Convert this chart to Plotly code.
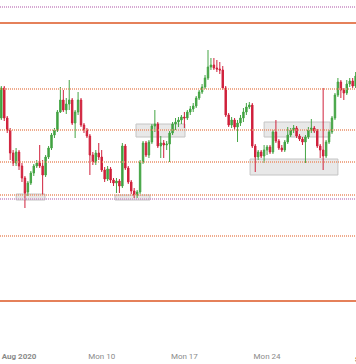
import pandas as pd
import plotly.graph_objects as go

# 6-hour candles
start = "2020-08-01 12:00"
opens = [12010,12160,12010,11950,11835,11785,11840,11770,11710,11640,
         11685,11735,11770,11785,11770,11725,11815,11860,11925,11950,
         12040,12100,12050,12080,12100,11985,12040,12100,11975,11950,
         11920,11825,11790,11835,11815,11750,11705,11755,11700,11685,
         11695,11670,11870,11760,11690,11645,11625,11640,11790,11885,
         11825,11890,11970,11980,11870,11885,11875,11880,11935,11980,
         11990,12000,12015,12010,12040,12055,12070,12110,12140,12165,
         12210,12265,12275,12260,12255,12250,12160,12025,11975,12000,
         11965,11985,12010,12040,12065,12075,11870,11815,11840,11820,
         11850,11865,11840,11940,11895,11860,11850,11890,11925,11950,
         11960,11920,11905,11890,11915,11950,11960,11945,11870,11850,
         11820,11890,11940,12010,12125,12190,12150,12135,12180,12195,
         12170]
highs = [12170,12170,12020,11960,11850,11860,11850,11785,11720,11695,
         11745,11780,11800,11875,11800,11825,11870,11935,11960,12050,
         12165,12150,12110,12200,12110,12050,12140,12110,11985,11960,
         11930,11840,11850,11885,11850,11765,11770,11765,11710,11710,
         11705,11885,11880,11770,11700,11660,11650,11800,11895,11895,
         11900,11980,12050,11990,11920,11900,11895,11945,11990,12010,
         12015,12025,12040,12050,12070,12085,12120,12150,12180,12225,
         12350,12310,12310,12300,12290,12270,12170,12035,12015,12010,
         12000,12025,12060,12085,12090,12085,11880,11850,11850,11875,
         11875,11875,11950,12000,11905,11875,11900,11965,11960,11975,
         11970,11930,11915,11925,11965,12005,11970,11955,11880,12160,
         11900,11950,12020,12135,12210,12200,12160,12200,12210,12210,
         12240]
lows = [12000,11995,11935,11800,11770,11770,11750,11690,11560,11620,
        11675,11720,11760,11760,11625,11715,11805,11850,11910,11940,
        12035,12040,12030,12050,11975,11910,12025,11965,11935,11910,
        11725,11775,11775,11800,11740,11690,11695,11685,11670,11635,
        11635,11660,11750,11680,11630,11610,11610,11630,11780,11815,
        11810,11880,11940,11860,11810,11810,11850,11790,11925,11950,
        11965,11980,11960,12000,12025,12040,12060,12100,12130,12155,
        12200,12250,12250,12240,12230,12150,12015,11965,11960,11950,
        11890,11970,11990,12025,12055,11860,11740,11800,11810,11785,
        11825,11830,11830,11885,11850,11840,11840,11880,11915,11935,
        11910,11895,11875,11785,11905,11935,11935,11860,11810,11750,
        11810,11880,11930,12000,12115,12110,12100,12125,12165,12160,
        12160]
closes = [12160,12010,11950,11835,11785,11840,11770,11710,11635,11685,
          11735,11770,11785,11770,11725,11815,11860,11925,11950,12040,
          12100,12050,12080,12100,11985,12040,12100,11975,11950,11920,
          11825,11790,11835,11815,11750,11705,11755,11700,11685,11695,
          11670,11870,11760,11690,11645,11625,11640,11790,11885,11825,
          11890,11970,11980,11870,11885,11875,11880,11935,11980,11990,
          12000,12015,12010,12040,12055,12070,12110,12140,12165,12210,
          12265,12275,12260,12255,12250,12160,12025,11975,12000,11965,
          11985,12010,12040,12065,12075,11870,11815,11840,11820,11850,
          11865,11840,11940,11895,11860,11850,11890,11925,11950,11960,
          11920,11905,11890,11915,11950,11960,11945,11870,11850,11820,
          11890,11940,12010,12125,12190,12150,12135,12180,12195,12170,
          12220]

# horizontal levels
solid_levels = [12485, 11095]
dotted_levels = [12155, 11950, 11790, 11625, 11420]
purple_levels = [12565, 11605]

# zones: (x0, x1, y0, y1)
zones = [
    ("2020-08-12 21:40", "2020-08-17 01:15", 11915, 11980),
    ("2020-08-23 18:00", "2020-08-29 08:00", 11915, 11990),
    ("2020-08-22 13:30", "2020-08-30 00:00", 11725, 11805),
    ("2020-08-02 18:15", "2020-08-05 04:50", 11600, 11630),
    ("2020-08-11 03:00", "2020-08-14 02:10", 11600, 11625),
]

tick_vals = ["2020-08-03", "2020-08-10", "2020-08-17", "2020-08-24"]
tick_text = ["<b>Aug 2020</b>", "Mon 10", "Mon 17", "Mon 24"]

times = pd.date_range(start, periods=len(opens), freq="6h")

fig = go.Figure(go.Candlestick(
    x=times, open=opens, high=highs, low=lows, close=closes,
    increasing=dict(line=dict(color="#45a545", width=1), fillcolor="#3f9f3f"),
    decreasing=dict(line=dict(color="#d0213c", width=1), fillcolor="#cf1f3a"),
    whiskerwidth=0,
))

shapes = []
for z in zones:
    shapes.append(dict(type="rect", xref="x", yref="y", x0=z[0], x1=z[1], y0=z[2], y1=z[3],
                       fillcolor="rgba(205,205,205,0.45)", line=dict(color="#c4c4c4", width=1),
                       layer="below"))
for v in solid_levels:
    shapes.append(dict(type="line", xref="paper", yref="y", x0=0, x1=1, y0=v, y1=v,
                       line=dict(color="#e5815a", width=2)))
for v in dotted_levels:
    shapes.append(dict(type="line", xref="paper", yref="y", x0=0, x1=1, y0=v, y1=v,
                       line=dict(color="#ea9068", width=1.3, dash="1px,1px")))
for v in purple_levels:
    shapes.append(dict(type="line", xref="paper", yref="y", x0=0, x1=1, y0=v, y1=v,
                       line=dict(color="#c98cc4", width=1.3, dash="1px,1px")))

fig.update_layout(
    width=356, height=364,
    margin=dict(l=0, r=0, t=0, b=16),
    paper_bgcolor="white", plot_bgcolor="white",
    showlegend=False,
    shapes=shapes,
    font=dict(family="Roboto, sans-serif", size=8, color="#8a8a8a"),
    xaxis=dict(range=["2020-08-01 09:20", "2020-08-31 12:45"], rangeslider=dict(visible=False),
               showgrid=False, zeroline=False, showline=False, ticks="",
               ticklabelstandoff=2,
               tickvals=tick_vals, ticktext=tick_text, tickfont=dict(size=8, color="#8a8a8a")),
    yaxis=dict(range=[10860, 12600], showgrid=False, zeroline=False, showticklabels=False,
               showline=False, ticks=""),
    annotations=[dict(text="<b>Sep</b>", xref="paper", yref="paper", x=1.0155, y=0,
                      yshift=-11, showarrow=False, font=dict(size=8, color="#555"),
                      xanchor="center", yanchor="middle")],
)
fig.write_html("out.html")
